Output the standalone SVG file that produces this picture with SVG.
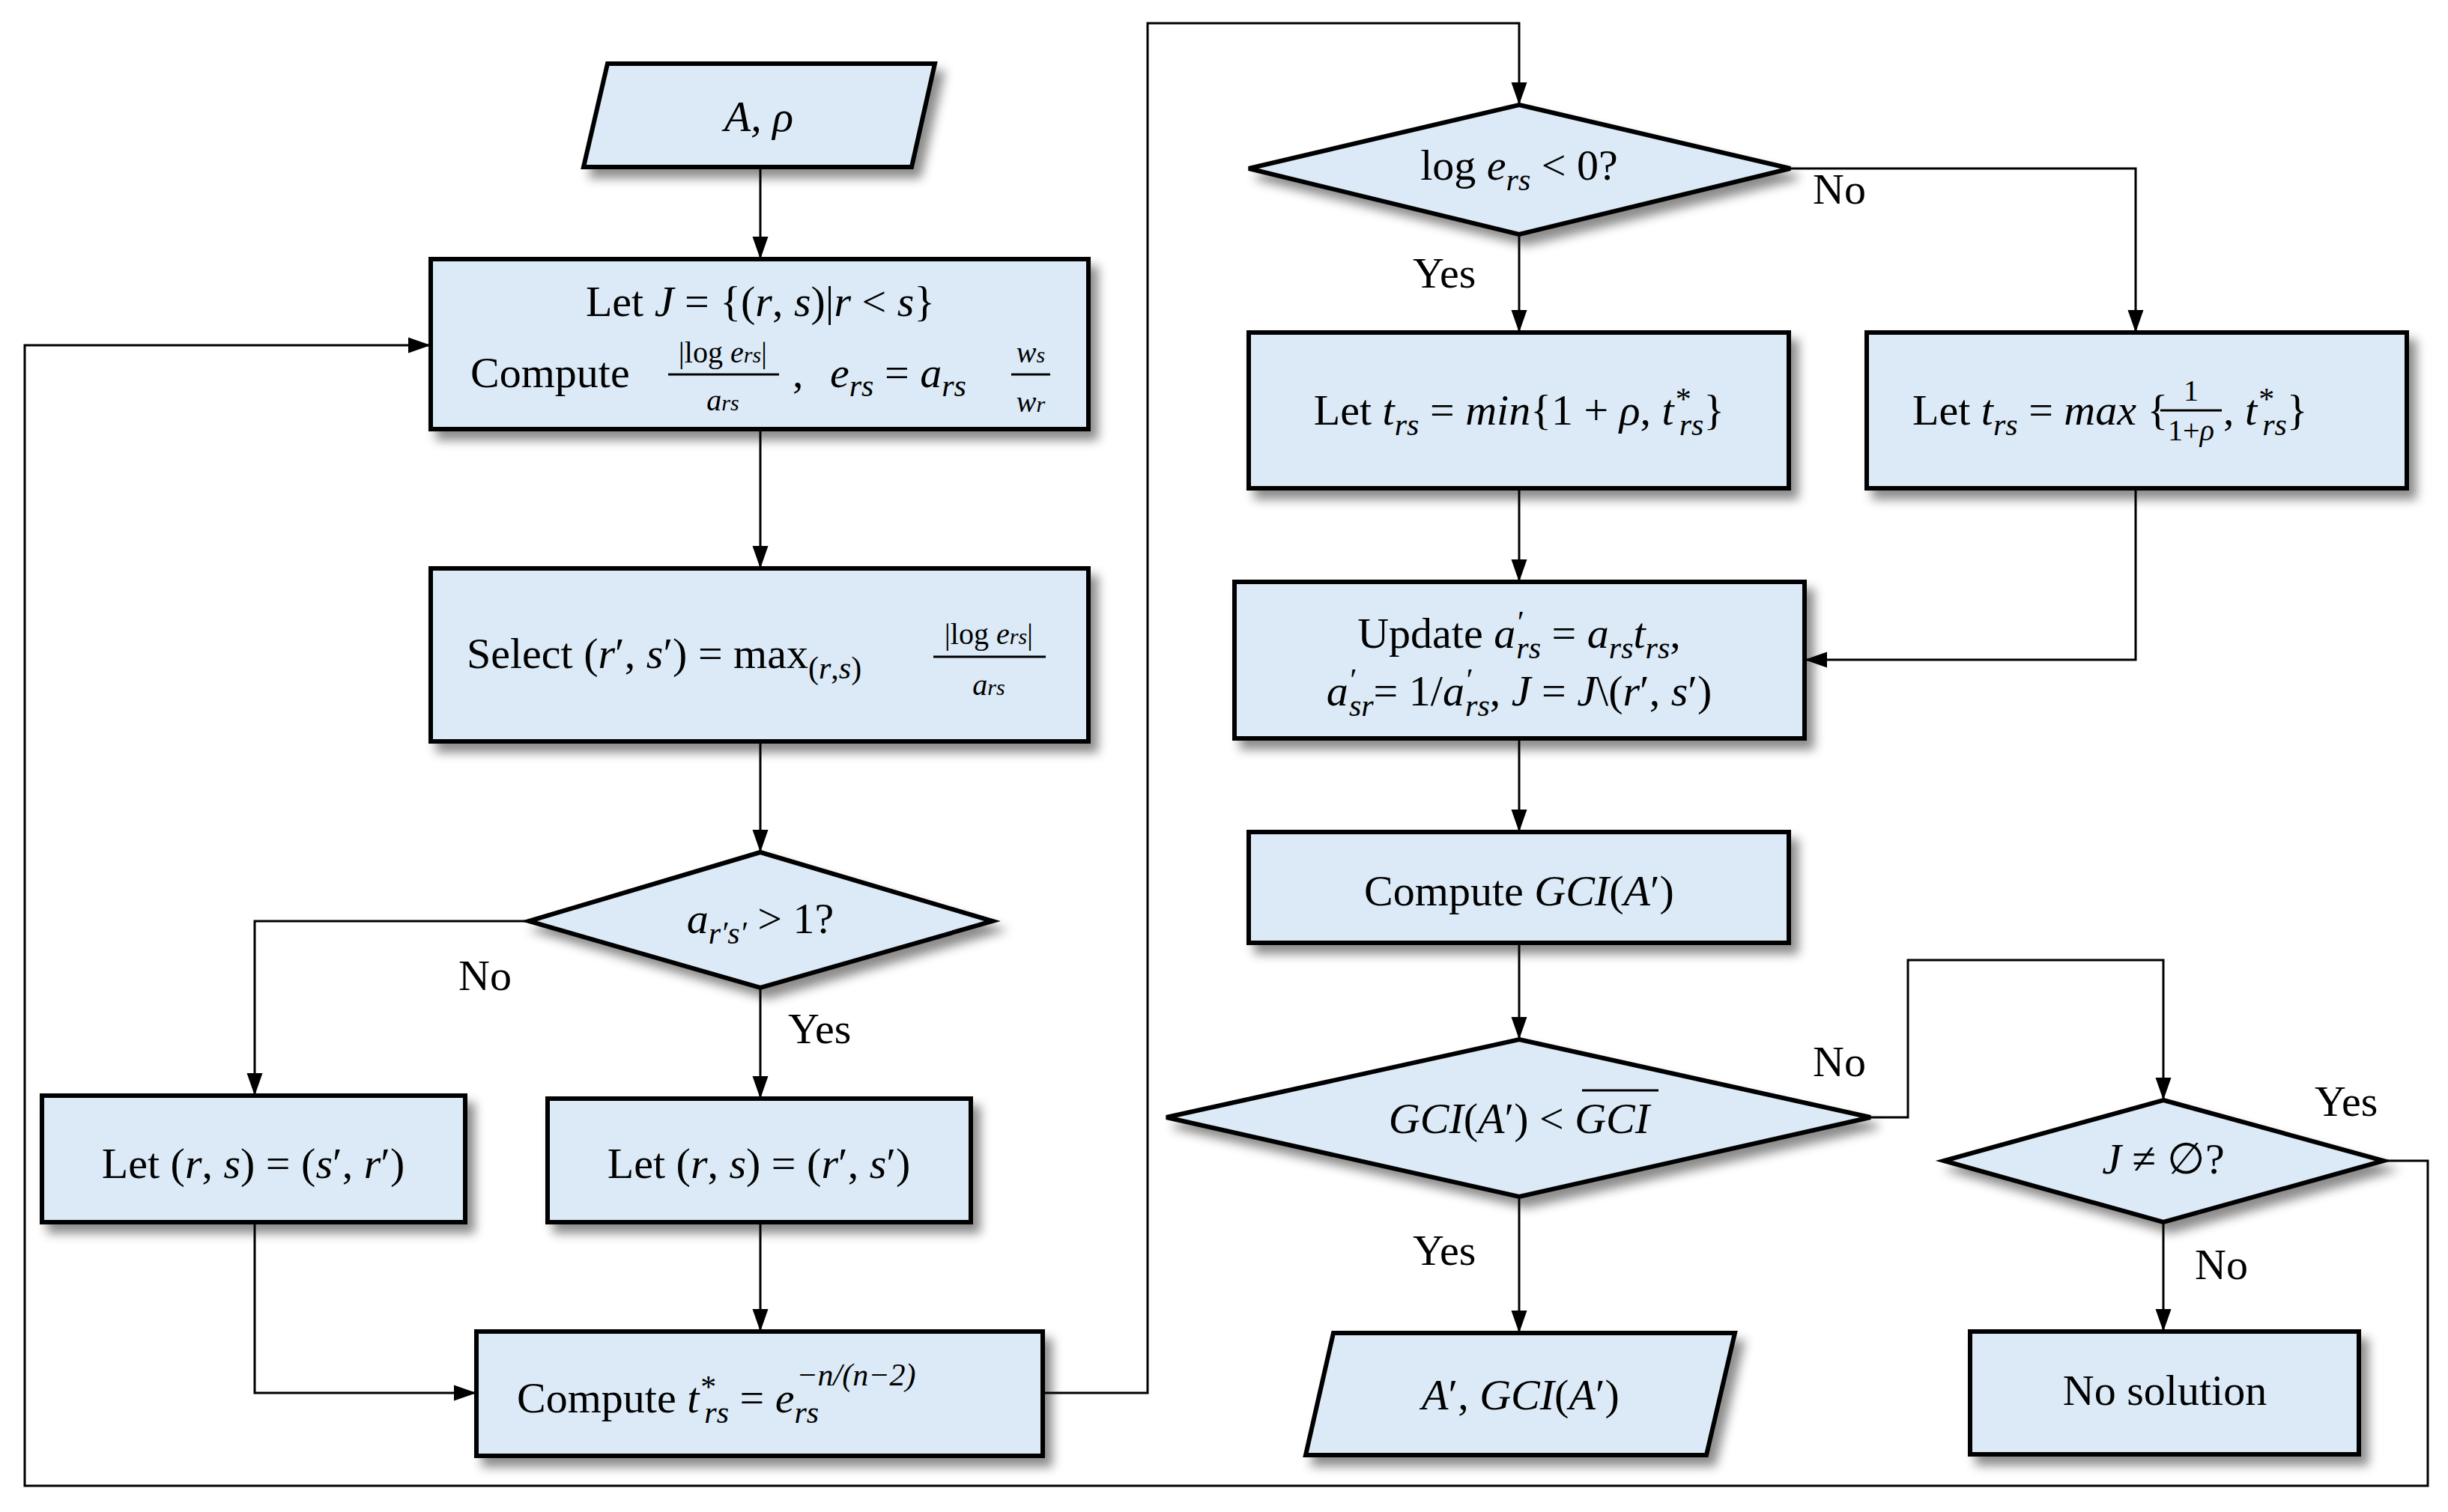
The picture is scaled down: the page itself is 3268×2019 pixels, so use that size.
<svg xmlns="http://www.w3.org/2000/svg" width="3268" height="2019" viewBox="0 0 3268 2019">
<defs>
<filter id="sh" x="-10%" y="-10%" width="130%" height="140%"><feDropShadow dx="10" dy="12" stdDeviation="7" flood-color="#000" flood-opacity="0.45"/></filter>
<marker id="a" viewBox="0 0 10 10" refX="10" refY="5" markerWidth="30" markerHeight="30" markerUnits="userSpaceOnUse" orient="auto"><path d="M0,1.5 L10,5 L0,8.5 z" fill="#000"/></marker>
<style>
.n{fill:#dbeaf6;stroke:#000;stroke-width:6;filter:url(#sh)}
.c{fill:none;stroke:#000;stroke-width:3;marker-end:url(#a)}
text{font-family:"Liberation Serif","DejaVu Serif",serif;font-size:58px;fill:#000}
.t{text-anchor:middle}
.i{font-style:italic}
.s{font-size:42px}
.f{font-size:40px;text-anchor:middle}
.b{stroke:#000;stroke-width:3}
</style>
</defs>
<g id="connectors">
<path class="c" d="M1015,223 V346"/>
<path class="c" d="M1015,573 V759"/>
<path class="c" d="M1015,990 V1138"/>
<path class="c" d="M706,1230 H340 V1463"/>
<path class="c" d="M1015,1319 V1467"/>
<path class="c" d="M1015,1632 V1778"/>
<path class="c" d="M340,1632 V1860 H636"/>
<path class="c" d="M1392,1860 H1532 V31 H2028 V140"/>
<path class="c" d="M2028,313 V444"/>
<path class="c" d="M2390,225 H2851 V444"/>
<path class="c" d="M2028,652 V777"/>
<path class="c" d="M2851,652 V881 H2409"/>
<path class="c" d="M2028,986 V1111"/>
<path class="c" d="M2028,1259 V1388"/>
<path class="c" d="M2028,1598 V1780"/>
<path class="c" d="M2497,1492 H2547 V1282 H2888 V1469"/>
<path class="c" d="M2888,1632 V1778"/>
<path class="c" d="M3182,1550 H3241 V1984 H33 V461 H575"/>
<text x="612" y="1322">No</text>
<text x="1052" y="1393">Yes</text>
<text x="1886" y="384">Yes</text>
<text x="2420" y="272">No</text>
<text x="2420" y="1437">No</text>
<text x="1886" y="1689">Yes</text>
<text x="3090" y="1490">Yes</text>
<text x="2930" y="1708">No</text>
</g>
<g id="input">
<polygon class="n" points="811,85 1248,85 1217,223 779,223"/>
<text class="t i" x="1013" y="175">A, ρ</text>
</g>
<g id="init">
<rect class="n" x="575" y="346" width="878" height="227"/>
<text class="t" x="1015" y="422">Let <tspan class="i">J</tspan> = {(<tspan class="i">r</tspan>, <tspan class="i">s</tspan>)|<tspan class="i">r</tspan> &lt; <tspan class="i">s</tspan>}</text>
<text x="628" y="517">Compute</text>
<text class="f" x="965" y="484">|log <tspan class="i">e</tspan><tspan class="i" font-size="30">rs</tspan>|</text>
<line class="b" x1="892" y1="500" x2="1040" y2="500"/>
<text class="f i" x="965" y="548">a<tspan font-size="30">rs</tspan></text>
<text x="1058" y="517">,</text>
<text x="1108" y="517"><tspan class="i">e</tspan><tspan class="i s" dy="12">rs</tspan><tspan dy="-12"> = </tspan><tspan class="i">a</tspan><tspan class="i s" dy="12">rs</tspan></text>
<text class="f i" x="1376" y="484">w<tspan font-size="30">s</tspan></text>
<line class="b" x1="1350" y1="500" x2="1402" y2="500"/>
<text class="f i" x="1376" y="550">w<tspan font-size="30">r</tspan></text>
</g>
<g id="select">
<rect class="n" x="575" y="759" width="878" height="231"/>
<text x="623" y="892">Select (<tspan class="i">r</tspan>′, <tspan class="i">s</tspan>′) = max<tspan class="s" dy="14">(</tspan><tspan class="s i">r</tspan><tspan class="s">,</tspan><tspan class="s i">s</tspan><tspan class="s">)</tspan></text>
<text class="f" x="1320" y="860">|log <tspan class="i">e</tspan><tspan class="i" font-size="30">rs</tspan>|</text>
<line class="b" x1="1246" y1="877" x2="1396" y2="877"/>
<text class="f i" x="1320" y="928">a<tspan font-size="30">rs</tspan></text>
</g>
<g id="dec1">
<polygon class="n" points="1015,1138 1325,1230 1015,1319 706,1230"/>
<text class="t" x="1015" y="1246"><tspan class="i">a</tspan><tspan class="i s" dy="14">r′s′</tspan><tspan dy="-14"> &gt; 1?</tspan></text>
</g>
<g id="swap">
<rect class="n" x="56" y="1463" width="565" height="169"/>
<text class="t" x="338" y="1573">Let (<tspan class="i">r</tspan>, <tspan class="i">s</tspan>) = (<tspan class="i">s</tspan>′, <tspan class="i">r</tspan>′)</text>
</g>
<g id="keep">
<rect class="n" x="731" y="1467" width="565" height="165"/>
<text class="t" x="1013" y="1573">Let (<tspan class="i">r</tspan>, <tspan class="i">s</tspan>) = (<tspan class="i">r</tspan>′, <tspan class="i">s</tspan>′)</text>
</g>
<g id="tstar">
<rect class="n" x="636" y="1778" width="756" height="166"/>
<text x="690" y="1886">Compute <tspan class="i">t</tspan><tspan class="i s" dy="-20">*</tspan><tspan class="i s" dx="-14" dy="34">rs</tspan><tspan dy="-14"> = </tspan><tspan class="i">e</tspan><tspan class="i s" dy="14">rs</tspan><tspan class="i s" dx="-30" dy="-50">−n/(n−2)</tspan></text>
</g>
<g id="dec2">
<polygon class="n" points="2028,140 2390,225 2028,313 1667,225"/>
<text class="t" x="2028" y="240">log <tspan class="i">e</tspan><tspan class="i s" dy="14">rs</tspan><tspan dy="-14"> &lt; 0?</tspan></text>
</g>
<g id="tmin">
<rect class="n" x="1667" y="444" width="721" height="208"/>
<text class="t" x="2028" y="567">Let <tspan class="i">t</tspan><tspan class="i s" dy="14">rs</tspan><tspan dy="-14"> = </tspan><tspan class="i">min</tspan>{1 + <tspan class="i">ρ</tspan>, <tspan class="i">t</tspan><tspan class="i s" dy="-20">*</tspan><tspan class="i s" dx="-14" dy="34">rs</tspan><tspan dy="-14">}</tspan></text>
</g>
<g id="tmax">
<rect class="n" x="2492" y="444" width="721" height="208"/>
<text x="2553" y="567">Let <tspan class="i">t</tspan><tspan class="i s" dy="14">rs</tspan><tspan dy="-14"> = </tspan><tspan class="i">max</tspan> {</text>
<text class="f" x="2925" y="535">1</text>
<line class="b" x1="2884" y1="548" x2="2966" y2="548"/>
<text class="f" x="2925" y="588">1+<tspan class="i">ρ</tspan></text>
<text x="2968" y="567">, <tspan class="i">t</tspan><tspan class="i s" dy="-20">*</tspan><tspan class="i s" dx="-14" dy="34">rs</tspan><tspan dy="-14">}</tspan></text>
</g>
<g id="update">
<rect class="n" x="1648" y="777" width="761" height="209"/>
<text class="t" x="2028" y="865">Update <tspan class="i">a</tspan><tspan class="i s" dy="-20">′</tspan><tspan class="i s" dx="-8" dy="34">rs</tspan><tspan dy="-14"> = </tspan><tspan class="i">a</tspan><tspan class="i s" dy="14">rs</tspan><tspan class="i" dy="-14">t</tspan><tspan class="i s" dy="14">rs</tspan><tspan dy="-14">,</tspan></text>
<text class="t" x="2028" y="942"><tspan class="i">a</tspan><tspan class="i s" dy="-20">′</tspan><tspan class="i s" dx="-8" dy="34">sr</tspan><tspan dy="-14">= 1/</tspan><tspan class="i">a</tspan><tspan class="i s" dy="-20">′</tspan><tspan class="i s" dx="-8" dy="34">rs</tspan><tspan dy="-14">, </tspan><tspan class="i">J</tspan> = <tspan class="i">J</tspan>\(<tspan class="i">r</tspan>′, <tspan class="i">s</tspan>′)</text>
</g>
<g id="gci">
<rect class="n" x="1667" y="1111" width="721" height="148"/>
<text class="t" x="2028" y="1209">Compute <tspan class="i">GCI</tspan>(<tspan class="i">A</tspan>′)</text>
</g>
<g id="dec3">
<polygon class="n" points="2028,1388 2497,1492 2028,1598 1557,1492"/>
<text class="t" x="2028" y="1513"><tspan class="i">GCI</tspan>(<tspan class="i">A</tspan>′) &lt; <tspan class="i">GCI</tspan></text>
<line class="b" x1="2112" y1="1456" x2="2214" y2="1456"/>
</g>
<g id="output">
<polygon class="n" points="1780,1780 2316,1780 2278,1943 1743,1943"/>
<text class="t" x="2030" y="1882"><tspan class="i">A</tspan>′, <tspan class="i">GCI</tspan>(<tspan class="i">A</tspan>′)</text>
</g>
<g id="dec4">
<polygon class="n" points="2888,1469 3182,1550 2888,1632 2595,1550"/>
<text class="t" x="2888" y="1567"><tspan class="i">J</tspan> ≠ ∅?</text>
</g>
<g id="nosol">
<rect class="n" x="2630" y="1778" width="519" height="164"/>
<text class="t" x="2890" y="1876">No solution</text>
</g>
</svg>
